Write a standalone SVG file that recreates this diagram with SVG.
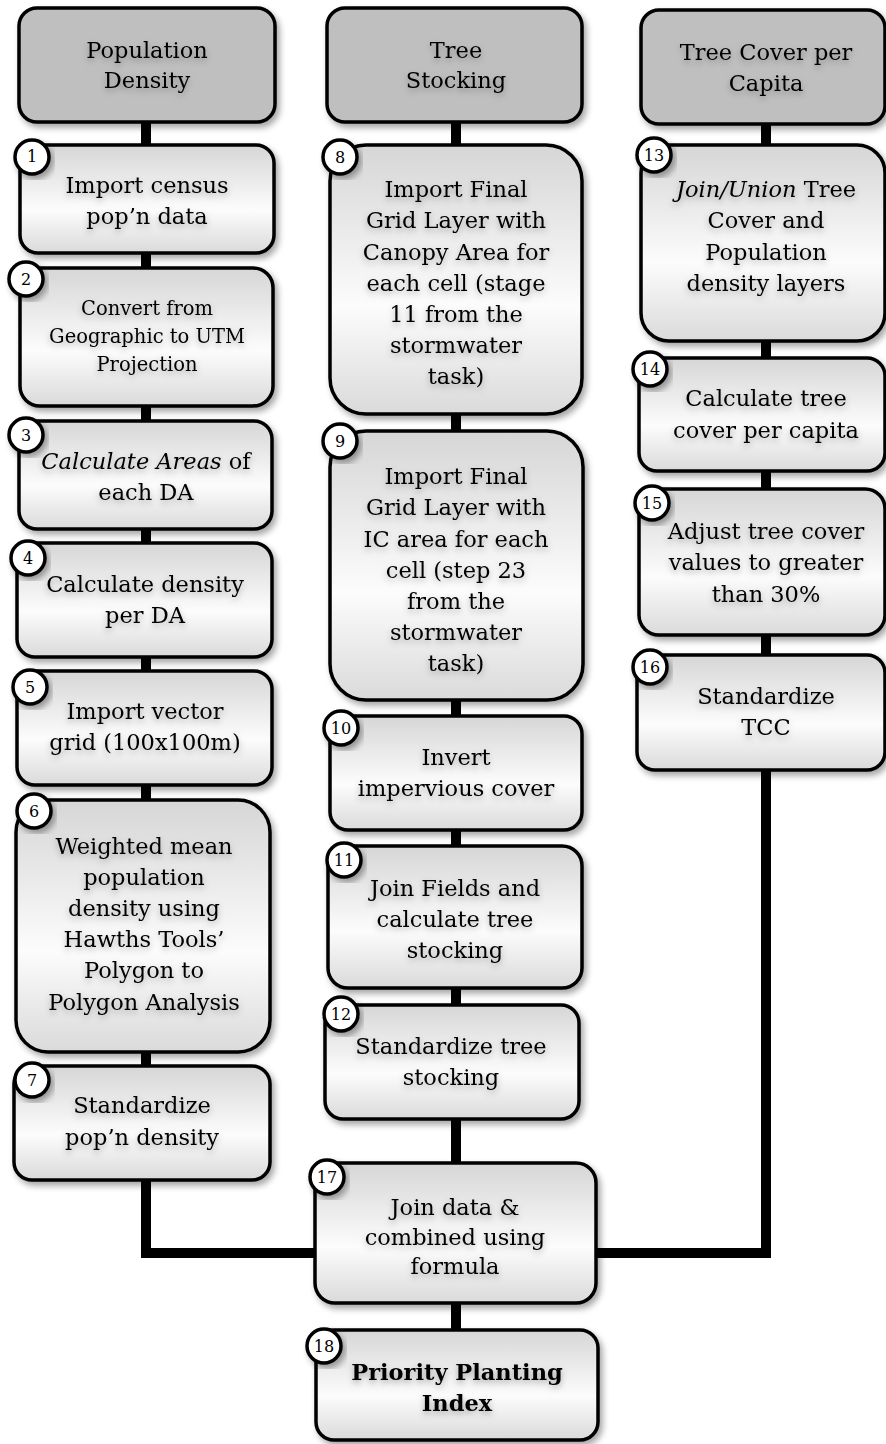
<svg xmlns="http://www.w3.org/2000/svg" width="886" height="1444" viewBox="0 0 886 1444">
<defs>
<linearGradient id="g" x1="0" y1="0" x2="0" y2="1">
<stop offset="0" stop-color="#d6d6d6"/>
<stop offset="0.6" stop-color="#fcfcfc"/>
<stop offset="1" stop-color="#dadada"/>
</linearGradient>
<filter id="sh" x="-10%" y="-10%" width="125%" height="125%">
<feDropShadow dx="3" dy="4" stdDeviation="3" flood-color="#000" flood-opacity="0.35"/>
</filter>
<filter id="ts" x="-10%" y="-30%" width="120%" height="180%">
<feDropShadow dx="0" dy="3" stdDeviation="3" flood-color="#000" flood-opacity="0.3"/>
</filter>
<style>
.box{fill:url(#g);stroke:#000;stroke-width:3.5;filter:url(#sh)}
.hdr{fill:#bfbfbf;stroke:#000;stroke-width:3.5;filter:url(#sh)}
.num{fill:#fff;stroke:#000;stroke-width:3.5;filter:url(#sh)}
text{font-family:"DejaVu Serif","Liberation Serif",serif;fill:#000;text-anchor:middle}
.t{font-size:22.5px;filter:url(#ts)}
.s{font-size:19.5px;filter:url(#ts)}
.n{font-size:16px}
.b{font-weight:bold}
.con{fill:none;stroke:#000;stroke-width:10;stroke-linejoin:miter}
</style>
</defs>
<rect width="886" height="1444" fill="#fff"/>
<g id="connectors">
<path class="con" d="M146 122V1253H766V124"/>
<path class="con" d="M456 122V1330"/>
</g>
<g id="h1"><rect class="hdr" x="19" y="8" width="256" height="114" rx="18"/>
<text class="t" x="147" y="58">Population</text><text class="t" x="147" y="88">Density</text></g>
<g id="h2"><rect class="hdr" x="327" y="8" width="255" height="114" rx="18"/>
<text class="t" x="456" y="58">Tree</text><text class="t" x="456" y="88">Stocking</text></g>
<g id="h3"><rect class="hdr" x="641" y="10" width="244" height="114" rx="18"/>
<text class="t" x="766" y="60">Tree Cover per</text><text class="t" x="766" y="91">Capita</text></g>

<g id="n1"><rect class="box" x="20" y="145" width="254" height="108" rx="18"/>
<text class="t" x="147" y="193">Import census</text><text class="t" x="147" y="224">pop’n data</text>
<circle class="num" cx="32" cy="157" r="17"/><text class="n" x="32" y="162">1</text></g>
<g id="n2"><rect class="box" x="20" y="268" width="253" height="138" rx="20"/>
<text class="s" x="147" y="315">Convert from</text><text class="s" x="147" y="343">Geographic to UTM</text><text class="s" x="147" y="371">Projection</text>
<circle class="num" cx="26" cy="279" r="17"/><text class="n" x="26" y="285">2</text></g>
<g id="n3"><rect class="box" x="19" y="421" width="253" height="108" rx="18"/>
<text class="t" x="146" y="469"><tspan font-style="italic">Calculate Areas</tspan> of</text><text class="t" x="146" y="500">each DA</text>
<circle class="num" cx="26" cy="435" r="17"/><text class="n" x="26" y="441">3</text></g>
<g id="n4"><rect class="box" x="17" y="543" width="255" height="114" rx="18"/>
<text class="t" x="145" y="592">Calculate density</text><text class="t" x="145" y="623">per DA</text>
<circle class="num" cx="28" cy="558" r="17"/><text class="n" x="28" y="564">4</text></g>
<g id="n5"><rect class="box" x="17" y="671" width="255" height="114" rx="18"/>
<text class="t" x="145" y="719">Import vector</text><text class="t" x="145" y="750">grid (100x100m)</text>
<circle class="num" cx="30" cy="687" r="17"/><text class="n" x="30" y="693">5</text></g>
<g id="n6"><rect class="box" x="16" y="800" width="254" height="252" rx="32"/>
<text class="t" x="144" y="854">Weighted mean</text><text class="t" x="144" y="885">population</text><text class="t" x="144" y="916">density using</text><text class="t" x="144" y="947">Hawths Tools’</text><text class="t" x="144" y="978">Polygon to</text><text class="t" x="144" y="1010">Polygon Analysis</text>
<circle class="num" cx="34" cy="811" r="17"/><text class="n" x="34" y="817">6</text></g>
<g id="n7"><rect class="box" x="14" y="1066" width="256" height="114" rx="18"/>
<text class="t" x="142" y="1113">Standardize</text><text class="t" x="142" y="1145">pop’n density</text>
<circle class="num" cx="32" cy="1080" r="17"/><text class="n" x="32" y="1086">7</text></g>

<g id="n8"><rect class="box" x="330" y="145" width="252" height="269" rx="36"/>
<text class="t" x="456" y="197">Import Final</text><text class="t" x="456" y="228">Grid Layer with</text><text class="t" x="456" y="260">Canopy Area for</text><text class="t" x="456" y="291">each cell (stage</text><text class="t" x="456" y="322">11 from the</text><text class="t" x="456" y="353">stormwater</text><text class="t" x="456" y="384">task)</text>
<circle class="num" cx="340" cy="157" r="17"/><text class="n" x="340" y="163">8</text></g>
<g id="n9"><rect class="box" x="330" y="431" width="253" height="269" rx="36"/>
<text class="t" x="456" y="484">Import Final</text><text class="t" x="456" y="515">Grid Layer with</text><text class="t" x="456" y="547">IC area for each</text><text class="t" x="456" y="578">cell (step 23</text><text class="t" x="456" y="609">from the</text><text class="t" x="456" y="640">stormwater</text><text class="t" x="456" y="671">task)</text>
<circle class="num" cx="340" cy="441" r="17"/><text class="n" x="340" y="447">9</text></g>
<g id="n10"><rect class="box" x="330" y="716" width="252" height="114" rx="18"/>
<text class="t" x="456" y="765">Invert</text><text class="t" x="456" y="796">impervious cover</text>
<circle class="num" cx="341" cy="728" r="17"/><text class="n" x="341" y="734">10</text></g>
<g id="n11"><rect class="box" x="328" y="846" width="254" height="142" rx="20"/>
<text class="t" x="455" y="896">Join Fields and</text><text class="t" x="455" y="927">calculate tree</text><text class="t" x="455" y="958">stocking</text>
<circle class="num" cx="344" cy="860" r="17"/><text class="n" x="344" y="866">11</text></g>
<g id="n12"><rect class="box" x="325" y="1005" width="254" height="114" rx="18"/>
<text class="t" x="451" y="1054">Standardize tree</text><text class="t" x="451" y="1085">stocking</text>
<circle class="num" cx="341" cy="1014" r="17"/><text class="n" x="341" y="1020">12</text></g>

<g id="n13"><rect class="box" x="641" y="145" width="244" height="196" rx="28"/>
<text class="t" x="766" y="197"><tspan font-style="italic">Join/Union</tspan> Tree</text><text class="t" x="766" y="228">Cover and</text><text class="t" x="766" y="260">Population</text><text class="t" x="766" y="291">density layers</text>
<circle class="num" cx="654" cy="155" r="17"/><text class="n" x="654" y="161">13</text></g>
<g id="n14"><rect class="box" x="639" y="358" width="246" height="113" rx="18"/>
<text class="t" x="766" y="406">Calculate tree</text><text class="t" x="766" y="438">cover per capita</text>
<circle class="num" cx="650" cy="369" r="17"/><text class="n" x="650" y="375">14</text></g>
<g id="n15"><rect class="box" x="639" y="489" width="246" height="146" rx="20"/>
<text class="t" x="766" y="539">Adjust tree cover</text><text class="t" x="766" y="570">values to greater</text><text class="t" x="766" y="602">than 30%</text>
<circle class="num" cx="652" cy="503" r="17"/><text class="n" x="652" y="509">15</text></g>
<g id="n16"><rect class="box" x="637" y="655" width="248" height="115" rx="18"/>
<text class="t" x="766" y="704">Standardize</text><text class="t" x="766" y="735">TCC</text>
<circle class="num" cx="650" cy="667" r="17"/><text class="n" x="650" y="673">16</text></g>

<g id="n17"><rect class="box" x="315" y="1163" width="281" height="140" rx="20"/>
<text class="t" x="455" y="1215">Join data &amp;</text><text class="t" x="455" y="1245">combined using</text><text class="t" x="455" y="1274">formula</text>
<circle class="num" cx="327" cy="1177" r="17"/><text class="n" x="327" y="1183">17</text></g>
<g id="n18"><rect class="box" x="316" y="1330" width="282" height="110" rx="18"/>
<text class="t b" x="457" y="1380">Priority Planting</text><text class="t b" x="457" y="1411">Index</text>
<circle class="num" cx="324" cy="1346" r="17"/><text class="n" x="324" y="1352">18</text></g>
</svg>
